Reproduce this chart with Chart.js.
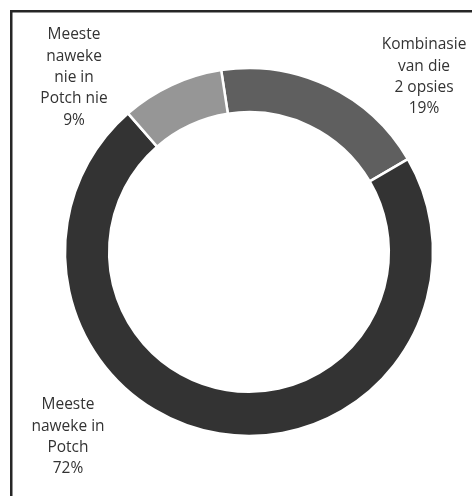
<!DOCTYPE html>
<html>
<head>
<meta charset="utf-8">
<script src="https://cdn.jsdelivr.net/npm/chart.js@4"></script>
<style>
  html, body { margin: 0; padding: 0; background: #fff; }
  #wrap { width: 472px; height: 496px; position: relative; }
</style>
</head>
<body>
<div id="wrap"><canvas id="myChart" width="472" height="496"></canvas></div>
<script>
// data
var categories = ['Kombinasie van die 2 opsies', 'Meeste naweke in Potch', 'Meeste naweke nie in Potch nie'];
var values = [19, 72, 9];
var labelLines = [
    ['Kombinasie', 'van die', '2 opsies'],
    ['Meeste', 'naweke in', 'Potch'],
    ['Meeste', 'naweke', 'nie in', 'Potch nie']
];
var colours = ['#5f5f5f', '#333333', '#969696'];

// where the excel-style labels sit (centre of first line)
var labelPos = [[424, 45], [68, 405], [74, 35]];

var framePlugin = {
    id: 'frame',
    beforeDraw: function(chart) {
        var c = chart.ctx;
        c.save();
        c.fillStyle = '#262626';
        c.fillRect(10, 10, 472, 2.5);
        c.fillRect(10, 10, 2.5, 496);
        c.restore();
    }
};

var labelPlugin = {
    id: 'sliceLabels',
    afterDraw: function(chart) {
        var c = chart.ctx;
        var total = values.reduce(function(a, b) { return a + b; }, 0);
        c.save();
        c.font = '15.5px "Open Sans", sans-serif';
        c.fillStyle = '#333333';
        c.textAlign = 'center';
        c.textBaseline = 'middle';
        for (var i = 0; i < values.length; i++) {
            var lines = labelLines[i].concat([Math.round(values[i] / total * 100) + '%']);
            for (var j = 0; j < lines.length; j++) {
                c.fillText(lines[j], labelPos[i][0], labelPos[i][1] + j * 21.3);
            }
        }
        c.restore();
    }
};

chartit();
function chartit(){
    var ctx = document.getElementById('myChart').getContext('2d');
    var myChart = new Chart(ctx, {
        type: 'doughnut',
        data: {
            labels: categories,
            datasets: [{
                data: values,
                backgroundColor: colours,
                borderColor: '#ffffff',
                borderWidth: 2.5
            }]
        },
        options: {
            responsive: false,
            animation: false,
            rotation: -8.7,
            radius: 184,
            cutout: '76%',
            layout: { padding: { left: 26, right: 0, top: 8, bottom: 0 } },
            plugins: {
                legend: { display: false },
                tooltip: { enabled: false }
            }
        },
        plugins: [framePlugin, labelPlugin]
    });
}
</script>
</body>
</html>
